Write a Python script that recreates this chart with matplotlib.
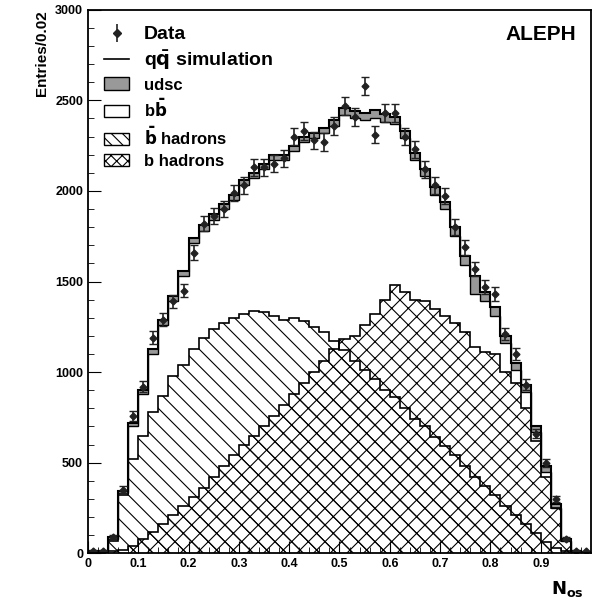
import numpy as np
import matplotlib.pyplot as plt
from matplotlib.patches import Rectangle
from matplotlib.lines import Line2D

plt.rcParams['font.family'] = ['Liberation Sans', 'DejaVu Sans']
plt.rcParams['font.weight'] = 'bold'
plt.rcParams['hatch.linewidth'] = 0.8

edges = np.linspace(0, 1, 51)
centers = 0.5 * (edges[:-1] + edges[1:])

# total b-bbar simulation
mc_bb = [10, 10, 80, 330, 700, 880, 1100, 1260, 1390, 1530,
         1710, 1780, 1840, 1900, 1950, 2030, 2070, 2120, 2170, 2170,
         2220, 2270, 2290, 2320, 2360, 2420, 2400, 2390, 2400, 2380,
         2370, 2290, 2170, 2080, 1980, 1900, 1750, 1590, 1430, 1390,
         1310, 1160, 1010, 890, 670, 450, 250, 70, 8, 3]
udsc = [3, 3, 8, 12, 20, 20, 30, 30, 30, 30,
        30, 30, 30, 30, 30, 30, 30, 30, 30, 30,
        30, 30, 30, 30, 30, 40, 40, 40, 45, 45,
        40, 40, 40, 40, 40, 40, 50, 50, 100, 50,
        50, 40, 40, 40, 30, 30, 20, 10, 2, 2]
data = [15, 15, 90, 350, 760, 920, 1190, 1290, 1390, 1450,
        1660, 1820, 1860, 1900, 1990, 2030, 2130, 2130, 2150, 2180,
        2300, 2330, 2280, 2270, 2360, 2470, 2410, 2580, 2310, 2430,
        2430, 2300, 2230, 2120, 2030, 1970, 1800, 1690, 1570, 1470,
        1430, 1210, 1100, 930, 660, 500, 300, 80, 15, 10]
bbar_had = [0, 0, 70, 320, 520, 650, 780, 870, 980, 1040,
            1130, 1190, 1240, 1270, 1300, 1320, 1340, 1330, 1310, 1290,
            1300, 1280, 1250, 1220, 1170, 1120, 1060, 1010, 960, 900,
            860, 800, 740, 700, 640, 590, 540, 480, 420, 370,
            320, 260, 210, 160, 110, 60, 30, 10, 0, 0]
b_had = [0, 0, 10, 20, 40, 80, 120, 160, 210, 260,
         310, 360, 420, 480, 540, 600, 650, 700, 760, 820,
         880, 940, 1000, 1060, 1130, 1180, 1200, 1260, 1320, 1400,
         1480, 1440, 1400, 1390, 1350, 1310, 1270, 1220, 1140, 1110,
         1100, 1000, 940, 800, 620, 420, 250, 70, 10, 0]

mc_bb = np.array(mc_bb)
total = mc_bb + np.array(udsc)

fig = plt.figure(figsize=(5.94, 6.10), dpi=100)
ax = fig.add_axes([0.148, 0.093, 0.847, 0.891])

ax.stairs(total, edges, baseline=mc_bb, fill=True, color='#999999')
ax.stairs(total, edges, color='black', lw=1.5)
ax.stairs(mc_bb, edges, color='black', lw=1.0)
ax.stairs(bbar_had, edges, fill=True, facecolor='none', edgecolor='black',
          hatch='\\\\', lw=1.2)
ax.stairs(b_had, edges, fill=True, facecolor='none', edgecolor='black',
          hatch='xx', lw=1.2)
ax.errorbar(centers, data, yerr=np.sqrt(data), fmt='D', color='#222222',
            ms=3.5, capsize=3, lw=1.2)

ax.set_xlim(0, 1)
ax.set_ylim(0, 3000)
ax.set_xticks(np.arange(0, 1.0, 0.1))
ax.set_xticklabels(['0', '0.1', '0.2', '0.3', '0.4', '0.5', '0.6', '0.7', '0.8', '0.9'])
ax.set_yticks(np.arange(0, 3001, 500))
ax.set_xticks(np.arange(0, 1.0, 0.02), minor=True)
ax.set_yticks(np.arange(0, 3000, 100), minor=True)
ax.tick_params(which='both', direction='in', top=False, right=False, labelsize=9)
ax.tick_params(which='major', length=9)
ax.tick_params(which='minor', length=4)
for s in ax.spines.values():
    s.set_linewidth(1.3)

ax.set_ylabel('Entries/0.02', fontsize=11, fontweight='bold', loc='top')
ax.text(0.985, -0.065, r'$\mathbf{N_{os}}$', transform=ax.transAxes,
        fontsize=13, ha='right', va='center')
ax.text(0.97, 0.955, 'ALEPH', transform=ax.transAxes, fontsize=15,
        fontweight='bold', ha='right', va='center')

# legend
handles = [
    ax.errorbar([], [], yerr=[], fmt='D', color='#222222', ms=4, lw=1.2),
    Line2D([], [], color='black', lw=1.2),
    Rectangle((0, 0), 1, 1, facecolor='#999999', edgecolor='black'),
    Rectangle((0, 0), 1, 1, facecolor='white', edgecolor='black'),
    Rectangle((0, 0), 1, 1, facecolor='white', edgecolor='black', hatch='\\\\\\'),
    Rectangle((0, 0), 1, 1, facecolor='white', edgecolor='black', hatch='xxx'),
]
labels = ['Data', r'q$\bar{\mathrm{q}}$ simulation', 'udsc', r'b$\bar{\mathrm{b}}$',
          r'$\bar{\mathrm{b}}$ hadrons', 'b hadrons']
sizes = [14, 14, 12, 12, 12, 12]
leg = ax.legend(handles, labels, loc='upper left', frameon=False,
                bbox_to_anchor=(0.0, 1.0), handlelength=1.4,
                labelspacing=0.3, prop={'weight': 'bold', 'size': 13})
for t, s in zip(leg.get_texts(), sizes):
    t.set_fontsize(s)

fig.savefig('out.png', dpi=100)
